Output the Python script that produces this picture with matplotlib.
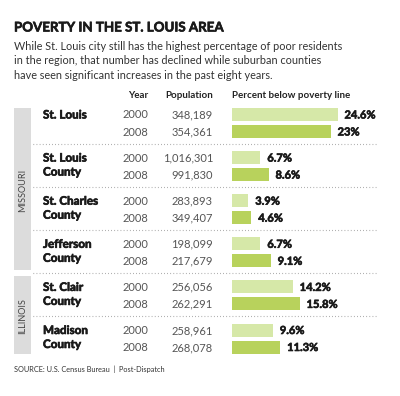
import matplotlib.pyplot as plt
import matplotlib.patheffects as pe
from matplotlib.patches import Rectangle

plt.rcParams['font.family'] = ['Lato', 'DejaVu Sans']

title = "POVERTY IN THE ST. LOUIS AREA"
subtitle = ["While St. Louis city still has the highest percentage of poor residents",
            "in the region, that number has declined while suburban counties",
            "have seen significant increases in the past eight years."]
source = "SOURCE: U.S. Census Bureau  |  Post-Dispatch"

places = ["St. Louis", "St. Louis\nCounty", "St. Charles\nCounty",
          "Jefferson\nCounty", "St. Clair\nCounty", "Madison\nCounty"]
years = ["2000", "2008"]
pop_2000 = [348189, 1016301, 283893, 198099, 256056, 258961]
pop_2008 = [354361, 991830, 349407, 217679, 262291, 268078]
pct_2000 = [24.6, 6.7, 3.9, 6.7, 14.2, 9.6]
pct_2008 = [23.0, 8.6, 4.6, 9.1, 15.8, 11.3]
states = ["MISSOURI", "ILLINOIS"]

light = "#d6e8a8"
dark = "#b8d25c"
numgray = "#555555"
ink = "#1a1a1a"
# fake a heavier weight than Lato Bold
thick = [pe.withStroke(linewidth=0.45, foreground=ink)]

W, H = 400, 396
fig = plt.figure(figsize=(W / 100, H / 100), dpi=100)
fig.patch.set_facecolor("white")
ax = fig.add_axes([0, 0, 1, 1])
ax.set_xlim(0, W)
ax.set_ylim(H, 0)
ax.axis("off")

# bar axes: x in percent, y in pixel rows
bar_x0 = 231.5
px_per_pct = 4.31
bx = fig.add_axes([bar_x0 / W, 0, (W - bar_x0) / W, 1])
bx.set_xlim(0, (W - bar_x0) / px_per_pct)
bx.set_ylim(H, 0)
bx.axis("off")
bx.patch.set_alpha(0)

ax.text(14, 27.5, title, fontsize=9.6, fontweight="bold", color=ink,
        va="center", ha="left", path_effects=thick)
for i, line in enumerate(subtitle):
    ax.text(14, 46 + 14.6 * i, line, fontsize=7.8, color="#333333",
            va="center", ha="left")

hy = 95
ax.text(148, hy, "Year", fontsize=7, fontweight="bold", color="#222222",
        ha="right", va="center")
ax.text(213, hy, "Population", fontsize=7, fontweight="bold", color="#222222",
        ha="right", va="center")
ax.text(bar_x0, hy, "Percent below poverty line", fontsize=7, fontweight="bold",
        color="#222222", ha="left", va="center")

row0 = 115
pitch = 43.1
step = 17

for g, name in enumerate(places):
    y0 = row0 + pitch * g
    for j, part in enumerate(name.split("\n")):
        ax.text(43, y0 + 14 * j, part, fontsize=8.4, fontweight="bold",
                color=ink, ha="left", va="center", path_effects=thick)
    pops = [pop_2000[g], pop_2008[g]]
    pcts = [pct_2000[g], pct_2008[g]]
    for k, yr in enumerate(years):
        y = y0 + step * k
        ax.text(148, y, yr, fontsize=8, color=numgray, ha="right", va="center")
        ax.text(213, y, f"{pops[k]:,}", fontsize=8, color=numgray,
                ha="right", va="center")
        bx.barh(y - 0.5, pcts[k], height=13, left=0,
                color=light if k == 0 else dark, edgecolor="none")
        bx.annotate(f"{pcts[k]:g}%", (pcts[k], y), xytext=(5, 0),
                    textcoords="offset points", fontsize=8, fontweight="bold",
                    color=ink, ha="left", va="center", path_effects=thick)
    if g < len(places) - 1:
        ax.plot([33, 377], [y0 + 29, y0 + 29], color="#8a8a8a", lw=0.8,
                linestyle=(0, (0.6, 2.2)))

# state side bars
tops = [108, 276]
bots = [270, 354]
for s, state in enumerate(states):
    ax.add_patch(Rectangle((14, tops[s]), 17, bots[s] - tops[s],
                           facecolor="#dcdcdc", edgecolor="none"))
    ax.text(22.5, (tops[s] + bots[s]) / 2 + 1, state, rotation=90, fontsize=6.6,
            color="#444444", ha="center", va="center")

ax.text(14, 369, source, fontsize=5.3, color="#333333", ha="left", va="center")

fig.savefig("out.png", dpi=100, facecolor="white")
